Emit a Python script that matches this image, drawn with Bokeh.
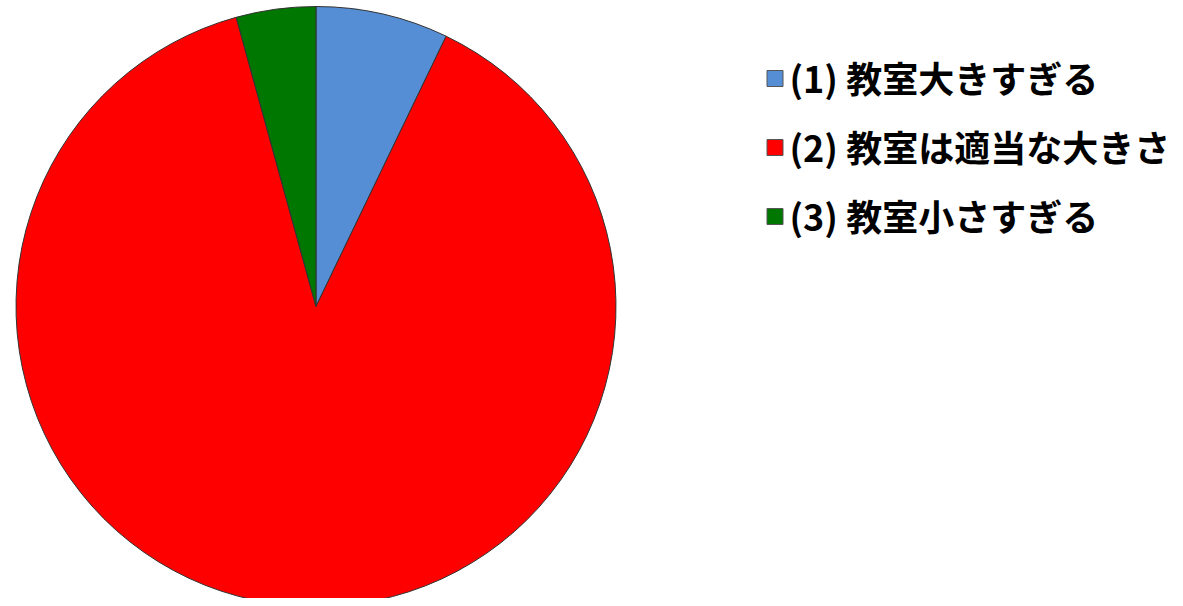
import numpy as np
from bokeh.plotting import figure
from bokeh.models import ColumnDataSource, Range1d
from bokeh.core.properties import value
from bokeh.embed import file_html
from bokeh.resources import INLINE

# Data
labels = ["(1) 教室大きすぎる", "(2) 教室は適当な大きさ", "(3) 教室小さすぎる"]
counts = [5, 62, 3]
colors = ["#558ED5", "#FF0000", "#007700"]

W, H = 1175, 598
p = figure(width=W, height=H, output_backend="svg", toolbar_location=None,
           x_range=Range1d(0, W), y_range=Range1d(0, H), min_border=0)
p.axis.visible = False
p.grid.visible = False
p.outline_line_color = None
p.background_fill_color = "white"
p.border_fill_color = "white"

vals = np.array(counts, dtype=float)
frac = vals / vals.sum()
cum = np.cumsum(frac)
# clockwise from 12 o'clock
end_ang = np.pi / 2 - (cum - frac) * 2 * np.pi
start_ang = np.pi / 2 - cum * 2 * np.pi

cx, cy, r = 315.5, H - 306, 300
src = ColumnDataSource(dict(start=start_ang, end=end_ang, color=colors))
p.wedge(x=cx, y=cy, radius=r, start_angle="start", end_angle="end",
        fill_color="color", line_color="#333333", line_width=1, source=src)

# Legend
lx, ly0, dy = 774.5, H - 78, 69
idx = np.arange(len(labels))
ys = ly0 - idx * dy
p.scatter(x=[lx] * len(labels), y=ys, marker="square", size=16,
          fill_color=colors, line_color="#555555", line_width=1)
p.text(x=[lx + 14.5] * len(labels), y=ys + 2, text=labels,
       text_font=value("Noto Sans CJK JP"), text_font_style="bold",
       text_font_size="36px", text_baseline="middle", text_align="left",
       text_color="black")

open("out.html", "w").write(file_html(p, INLINE))
